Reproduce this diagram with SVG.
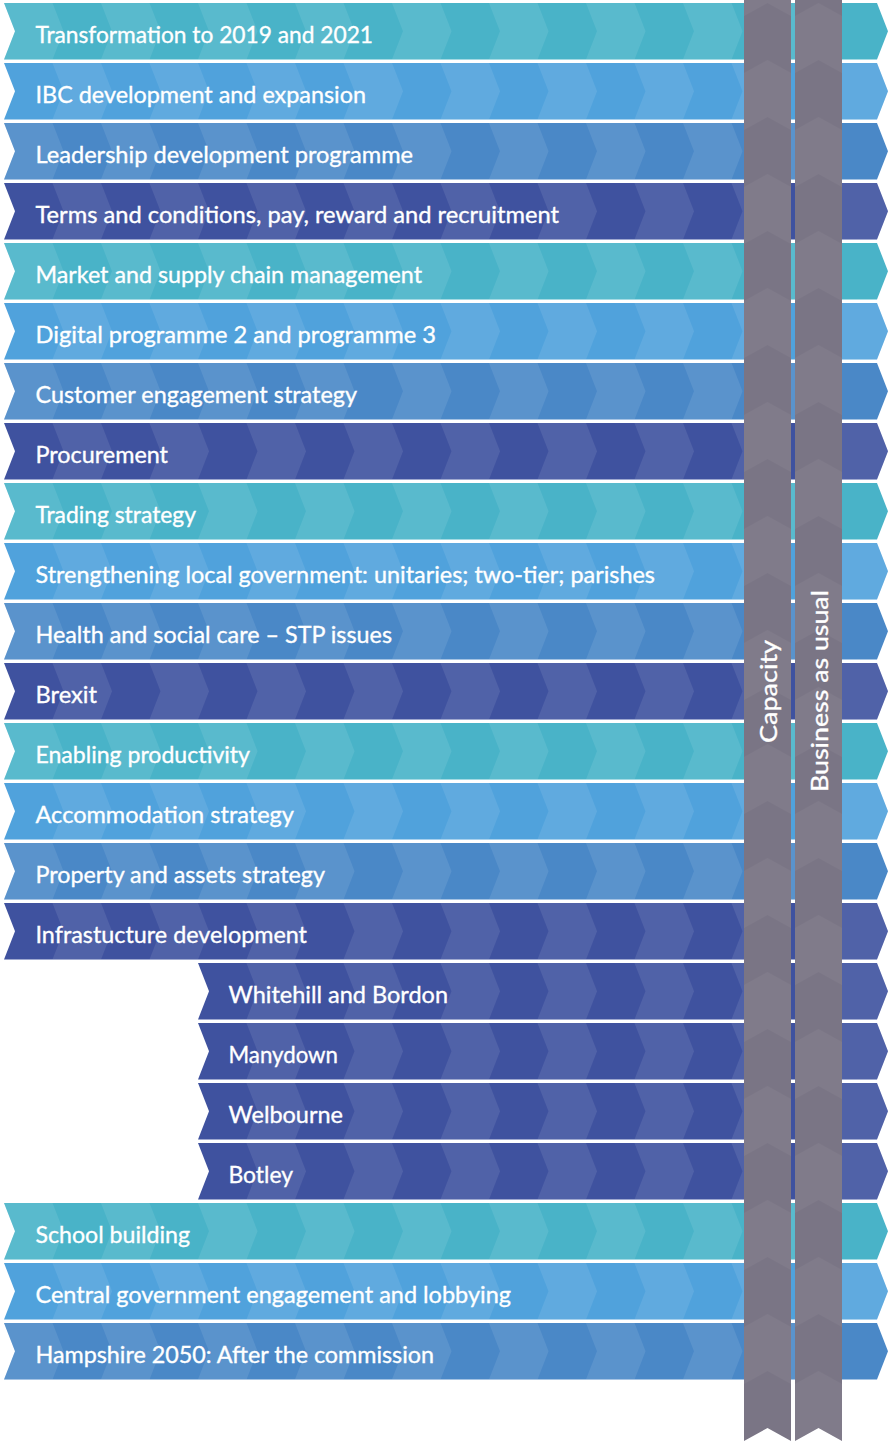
<svg xmlns="http://www.w3.org/2000/svg" width="889" height="1445" viewBox="0 0 889 1445">
<style>
.t{font-family:Lato,"Open Sans","Liberation Sans",sans-serif;font-size:24px;fill:#ffffff;stroke:#ffffff;stroke-width:0.35px;}
.teal{fill:#49b3c8}
.lb{fill:#50a2dc}
.mb{fill:#4a88c7}
.ind{fill:#3f529f}
.bar{fill:#7a7585}
.ov{fill:#ffffff;fill-opacity:0.09}
.bov{fill:#ffffff;fill-opacity:0.045}
</style>
<defs>
<pattern id="sEven" patternUnits="userSpaceOnUse" x="4" y="3" width="97" height="60">
<polygon class="ov" points="0,0 48.5,0 59.5,28.25 48.5,56.5 0,56.5 11,28.25"/>
</pattern>
<pattern id="sOdd" patternUnits="userSpaceOnUse" x="4" y="3" width="97" height="60">
<polygon class="ov" points="48.5,0 59.5,28.25 48.5,56.5 97,56.5 97,0"/>
<polygon class="ov" points="0,0 11,28.25 0,56.5"/>
</pattern>
<pattern id="bA" patternUnits="userSpaceOnUse" x="744" y="3" width="51" height="114">
<polygon class="bov" points="0,70 23.5,57 47,70 47,114 0,114"/>
<polygon class="bov" points="0,13 0,0 47,0 47,13 23.5,0"/>
</pattern>
<pattern id="bB" patternUnits="userSpaceOnUse" x="744" y="60" width="51" height="114">
<polygon class="bov" points="0,70 23.5,57 47,70 47,114 0,114"/>
<polygon class="bov" points="0,13 0,0 47,0 47,13 23.5,0"/>
</pattern>
</defs>

<g id="rows">
<g id="n1"><polygon class="teal" points="4,3 877,3 888,31.25 877,59.5 4,59.5 15,31.25"/><polygon fill="url(#sEven)" points="4,3 877,3 888,31.25 877,59.5 4,59.5 15,31.25"/><text class="t" x="35.5" y="42.5" textLength="337.5" lengthAdjust="spacingAndGlyphs">Transformation to 2019 and 2021</text></g>
<g id="n2"><polygon class="lb" points="4,63 877,63 888,91.25 877,119.5 4,119.5 15,91.25"/><polygon fill="url(#sOdd)" points="4,63 877,63 888,91.25 877,119.5 4,119.5 15,91.25"/><text class="t" x="35.5" y="102.5" textLength="330.5" lengthAdjust="spacingAndGlyphs">IBC development and expansion</text></g>
<g id="n3"><polygon class="mb" points="4,123 877,123 888,151.25 877,179.5 4,179.5 15,151.25"/><polygon fill="url(#sEven)" points="4,123 877,123 888,151.25 877,179.5 4,179.5 15,151.25"/><text class="t" x="35.5" y="162.5" textLength="377.5" lengthAdjust="spacingAndGlyphs">Leadership development programme</text></g>
<g id="n4"><polygon class="ind" points="4,183 877,183 888,211.25 877,239.5 4,239.5 15,211.25"/><polygon fill="url(#sOdd)" points="4,183 877,183 888,211.25 877,239.5 4,239.5 15,211.25"/><text class="t" x="35.5" y="222.5" textLength="523.5" lengthAdjust="spacingAndGlyphs">Terms and conditions, pay, reward and recruitment</text></g>
<g id="n5"><polygon class="teal" points="4,243 877,243 888,271.25 877,299.5 4,299.5 15,271.25"/><polygon fill="url(#sEven)" points="4,243 877,243 888,271.25 877,299.5 4,299.5 15,271.25"/><text class="t" x="35.5" y="282.5" textLength="386.5" lengthAdjust="spacingAndGlyphs">Market and supply chain management</text></g>
<g id="n6"><polygon class="lb" points="4,303 877,303 888,331.25 877,359.5 4,359.5 15,331.25"/><polygon fill="url(#sOdd)" points="4,303 877,303 888,331.25 877,359.5 4,359.5 15,331.25"/><text class="t" x="35.5" y="342.5" textLength="400.5" lengthAdjust="spacingAndGlyphs">Digital programme 2 and programme 3</text></g>
<g id="n7"><polygon class="mb" points="4,363 877,363 888,391.25 877,419.5 4,419.5 15,391.25"/><polygon fill="url(#sEven)" points="4,363 877,363 888,391.25 877,419.5 4,419.5 15,391.25"/><text class="t" x="35.5" y="402.5" textLength="321.5" lengthAdjust="spacingAndGlyphs">Customer engagement strategy</text></g>
<g id="n8"><polygon class="ind" points="4,423 877,423 888,451.25 877,479.5 4,479.5 15,451.25"/><polygon fill="url(#sOdd)" points="4,423 877,423 888,451.25 877,479.5 4,479.5 15,451.25"/><text class="t" x="35.5" y="462.5" textLength="132.5" lengthAdjust="spacingAndGlyphs">Procurement</text></g>
<g id="n9"><polygon class="teal" points="4,483 877,483 888,511.25 877,539.5 4,539.5 15,511.25"/><polygon fill="url(#sEven)" points="4,483 877,483 888,511.25 877,539.5 4,539.5 15,511.25"/><text class="t" x="35.5" y="522.5" textLength="160.5" lengthAdjust="spacingAndGlyphs">Trading strategy</text></g>
<g id="n10"><polygon class="lb" points="4,543 877,543 888,571.25 877,599.5 4,599.5 15,571.25"/><polygon fill="url(#sOdd)" points="4,543 877,543 888,571.25 877,599.5 4,599.5 15,571.25"/><text class="t" x="35.5" y="582.5" textLength="619.5" lengthAdjust="spacingAndGlyphs">Strengthening local government: unitaries; two-tier; parishes</text></g>
<g id="n11"><polygon class="mb" points="4,603 877,603 888,631.25 877,659.5 4,659.5 15,631.25"/><polygon fill="url(#sEven)" points="4,603 877,603 888,631.25 877,659.5 4,659.5 15,631.25"/><text class="t" x="35.5" y="642.5" textLength="356.5" lengthAdjust="spacingAndGlyphs">Health and social care – STP issues</text></g>
<g id="n12"><polygon class="ind" points="4,663 877,663 888,691.25 877,719.5 4,719.5 15,691.25"/><polygon fill="url(#sOdd)" points="4,663 877,663 888,691.25 877,719.5 4,719.5 15,691.25"/><text class="t" x="35.5" y="702.5" textLength="61.5" lengthAdjust="spacingAndGlyphs">Brexit</text></g>
<g id="n13"><polygon class="teal" points="4,723 877,723 888,751.25 877,779.5 4,779.5 15,751.25"/><polygon fill="url(#sEven)" points="4,723 877,723 888,751.25 877,779.5 4,779.5 15,751.25"/><text class="t" x="35.5" y="762.5" textLength="214.5" lengthAdjust="spacingAndGlyphs">Enabling productivity</text></g>
<g id="n14"><polygon class="lb" points="4,783 877,783 888,811.25 877,839.5 4,839.5 15,811.25"/><polygon fill="url(#sOdd)" points="4,783 877,783 888,811.25 877,839.5 4,839.5 15,811.25"/><text class="t" x="35.5" y="822.5" textLength="258.5" lengthAdjust="spacingAndGlyphs">Accommodation strategy</text></g>
<g id="n15"><polygon class="mb" points="4,843 877,843 888,871.25 877,899.5 4,899.5 15,871.25"/><polygon fill="url(#sEven)" points="4,843 877,843 888,871.25 877,899.5 4,899.5 15,871.25"/><text class="t" x="35.5" y="882.5" textLength="289.5" lengthAdjust="spacingAndGlyphs">Property and assets strategy</text></g>
<g id="n16"><polygon class="ind" points="4,903 877,903 888,931.25 877,959.5 4,959.5 15,931.25"/><polygon fill="url(#sOdd)" points="4,903 877,903 888,931.25 877,959.5 4,959.5 15,931.25"/><text class="t" x="35.5" y="942.5" textLength="271.5" lengthAdjust="spacingAndGlyphs">Infrastucture development</text></g>
<g id="n17"><polygon class="ind" points="198,963 877,963 888,991.25 877,1019.5 198,1019.5 209,991.25"/><polygon fill="url(#sOdd)" points="198,963 877,963 888,991.25 877,1019.5 198,1019.5 209,991.25"/><text class="t" x="228.5" y="1002.5" textLength="219.5" lengthAdjust="spacingAndGlyphs">Whitehill and Bordon</text></g>
<g id="n18"><polygon class="ind" points="198,1023 877,1023 888,1051.25 877,1079.5 198,1079.5 209,1051.25"/><polygon fill="url(#sOdd)" points="198,1023 877,1023 888,1051.25 877,1079.5 198,1079.5 209,1051.25"/><text class="t" x="228.5" y="1062.5" textLength="109.5" lengthAdjust="spacingAndGlyphs">Manydown</text></g>
<g id="n19"><polygon class="ind" points="198,1083 877,1083 888,1111.25 877,1139.5 198,1139.5 209,1111.25"/><polygon fill="url(#sOdd)" points="198,1083 877,1083 888,1111.25 877,1139.5 198,1139.5 209,1111.25"/><text class="t" x="228.5" y="1122.5" textLength="114.5" lengthAdjust="spacingAndGlyphs">Welbourne</text></g>
<g id="n20"><polygon class="ind" points="198,1143 877,1143 888,1171.25 877,1199.5 198,1199.5 209,1171.25"/><polygon fill="url(#sOdd)" points="198,1143 877,1143 888,1171.25 877,1199.5 198,1199.5 209,1171.25"/><text class="t" x="228.5" y="1182.5" textLength="64.5" lengthAdjust="spacingAndGlyphs">Botley</text></g>
<g id="n21"><polygon class="teal" points="4,1203 877,1203 888,1231.25 877,1259.5 4,1259.5 15,1231.25"/><polygon fill="url(#sEven)" points="4,1203 877,1203 888,1231.25 877,1259.5 4,1259.5 15,1231.25"/><text class="t" x="35.5" y="1242.5" textLength="154.5" lengthAdjust="spacingAndGlyphs">School building</text></g>
<g id="n22"><polygon class="lb" points="4,1263 877,1263 888,1291.25 877,1319.5 4,1319.5 15,1291.25"/><polygon fill="url(#sOdd)" points="4,1263 877,1263 888,1291.25 877,1319.5 4,1319.5 15,1291.25"/><text class="t" x="35.5" y="1302.5" textLength="475.5" lengthAdjust="spacingAndGlyphs">Central government engagement and lobbying</text></g>
<g id="n23"><polygon class="mb" points="4,1323 877,1323 888,1351.25 877,1379.5 4,1379.5 15,1351.25"/><polygon fill="url(#sEven)" points="4,1323 877,1323 888,1351.25 877,1379.5 4,1379.5 15,1351.25"/><text class="t" x="35.5" y="1362.5" textLength="398.5" lengthAdjust="spacingAndGlyphs">Hampshire 2050: After the commission</text></g>
</g>

<g id="capacity">
<path class="bar" d="M744,0 H791 V1441 L767.5,1428 L744,1441 Z"/>
<path fill="url(#bA)" d="M744,0 H791 V1441 L767.5,1428 L744,1441 Z"/>
<text class="t" transform="translate(777,691.5) rotate(-90)" text-anchor="middle" textLength="103" lengthAdjust="spacingAndGlyphs">Capacity</text>
</g>
<g id="business-as-usual">
<path class="bar" d="M795,0 H842 V1441 L818.5,1428 L795,1441 Z"/>
<path fill="url(#bB)" d="M795,0 H842 V1441 L818.5,1428 L795,1441 Z"/>
<text class="t" transform="translate(828,691) rotate(-90)" text-anchor="middle" textLength="202" lengthAdjust="spacingAndGlyphs">Business as usual</text>
</g>
<g id="connectors"></g>
</svg>
